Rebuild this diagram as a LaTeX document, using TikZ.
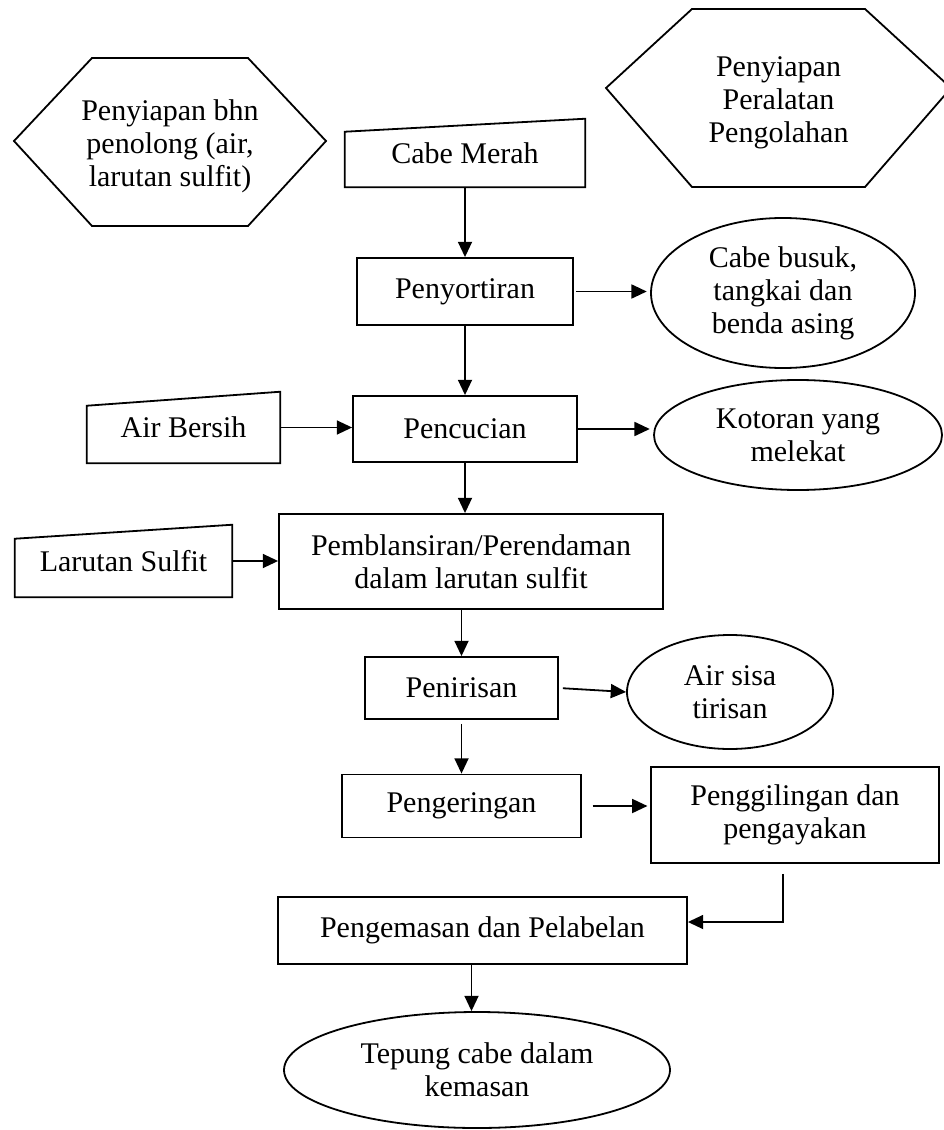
\documentclass[tikz,border=0pt]{standalone}
\usepackage{fontspec}
\setmainfont{Liberation Serif}
\usetikzlibrary{arrows.meta,shapes.geometric,calc}
\begin{document}
\begin{tikzpicture}[x=0.75pt,y=-0.75pt,
  every node/.style={font=\fontsize{22.5}{24.75}\selectfont, align=center, inner sep=0pt},
  outline/.style={draw, line width=1.35pt, line join=miter},
  box/.style={draw, line width=1.35pt, rectangle},
  shell/.style={rectangle, draw=none},
  oval/.style={draw, line width=1.35pt, ellipse},
  arr/.style={line width=1.35pt, -{Triangle[length=11.5pt,width=10.5pt]}}]
\useasboundingbox (0,0) rectangle (943,1130);

% preparation hexagons (outline drawn at fixed offsets from the text node)
\node[shell] (hexL) at (170,146) {Penyiapan bhn\\penolong (air,\\larutan sulfit)};
\draw[outline] ($(hexL.center)+(-78,-88)$) -- ($(hexL.center)+(78,-88)$) -- ($(hexL.center)+(156,-5)$) -- ($(hexL.center)+(78,80)$) -- ($(hexL.center)+(-78,80)$) -- ($(hexL.center)+(-156,-5)$) -- cycle;

\node[shell] (hexR) at (778.5,103) {Penyiapan\\Peralatan\\Pengolahan};
\draw[outline] ($(hexR.center)+(-86.5,-94)$) -- ($(hexR.center)+(86.5,-94)$) -- ($(hexR.center)+(172.5,-15)$) -- ($(hexR.center)+(86.5,84)$) -- ($(hexR.center)+(-86.5,84)$) -- ($(hexR.center)+(-172.5,-15)$) -- cycle;

% manual inputs
\node[shell, minimum width=240*0.75pt, minimum height=68*0.75pt] (cabe) at (465,153) {Cabe Merah};
\draw[outline] (cabe.south west) -- (cabe.south east) -- (cabe.north east) -- ($(cabe.north west)+(0,13)$) -- cycle;

\node[shell, minimum width=193*0.75pt, minimum height=71*0.75pt] (air) at (183.5,427.5) {Air Bersih};
\draw[outline] (air.south west) -- (air.south east) -- (air.north east) -- ($(air.north west)+(0,14)$) -- cycle;

\node[shell, minimum width=217*0.75pt, minimum height=72*0.75pt] (lar) at (123.5,561) {Larutan Sulfit};
\draw[outline] (lar.south west) -- (lar.south east) -- (lar.north east) -- ($(lar.north west)+(0,14)$) -- cycle;

% process boxes
\node[box, minimum width=216*0.75pt, minimum height=67*0.75pt] (sort) at (465,291.5) {Penyortiran};
\node[box, minimum width=224*0.75pt, minimum height=66*0.75pt] (cuci) at (465,429) {Pencucian};
\node[box, minimum width=384*0.75pt, minimum height=95*0.75pt] (blans) at (471,561.5) {Pemblansiran/Perendaman\\dalam larutan sulfit};
\node[box, minimum width=193*0.75pt, minimum height=62*0.75pt] (tiris) at (461.5,688) {Penirisan};
\node[box, minimum width=239*0.75pt, minimum height=63*0.75pt] (kering) at (461.5,806) {Pengeringan};
\node[box, minimum width=288*0.75pt, minimum height=96*0.75pt] (giling) at (795,815) {Penggilingan dan\\pengayakan};
\node[box, minimum width=409*0.75pt, minimum height=67*0.75pt] (kemas) at (482.5,930.5) {Pengemasan dan Pelabelan};

% outputs
\node[oval, minimum width=264*0.75pt, minimum height=150*0.75pt] (ell1) at (783,293) {Cabe busuk,\\tangkai dan\\benda asing};
\node[oval, minimum width=288*0.75pt, minimum height=110*0.75pt] (ell2) at (798,435) {Kotoran yang\\melekat};
\node[oval, minimum width=206*0.75pt, minimum height=114*0.75pt] (ell3) at (730,692) {Air sisa\\tirisan};
\node[oval, minimum width=386*0.75pt, minimum height=116*0.75pt] (ell4) at (477,1070) {Tepung cabe dalam\\kemasan};

% connectors
\draw[arr] (cabe.south) -- (sort.north);
\draw[arr, shorten <=1.5pt, shorten >=2.5pt] (sort.east) -- (sort.east -| ell1.west);
\draw[arr] (sort.south) -- (cuci.north);
\draw[arr] (air.east) -- (air.east -| cuci.west);
\draw[arr, shorten >=2.5pt] (cuci.east) -- (cuci.east -| ell2.west);
\draw[arr] (cuci.south) -- (cuci.south |- blans.north);
\draw[arr] (lar.east) -- (lar.east -| blans.west);
\draw[arr] (tiris.north |- blans.south) -- (tiris.north);
\draw[arr, shorten <=3pt] (tiris.east) -- (ell3.west);
\draw[arr, shorten <=3pt] (tiris.south) -- (kering.north);
\draw[arr, shorten <=8pt, shorten >=2pt] (kering.east) -- (kering.east -| giling.west);
\coordinate (gturn) at ($(giling.south)+(-12,10)$);
\coordinate (kin) at ($(kemas.east)+(0,-8.5)$);
\draw[arr] (gturn) |- (kin);
\coordinate (kdown) at ($(kemas.south)+(-11,0)$);
\draw[arr] (kdown) -- (kdown |- ell4.north);
\end{tikzpicture}
\end{document}
